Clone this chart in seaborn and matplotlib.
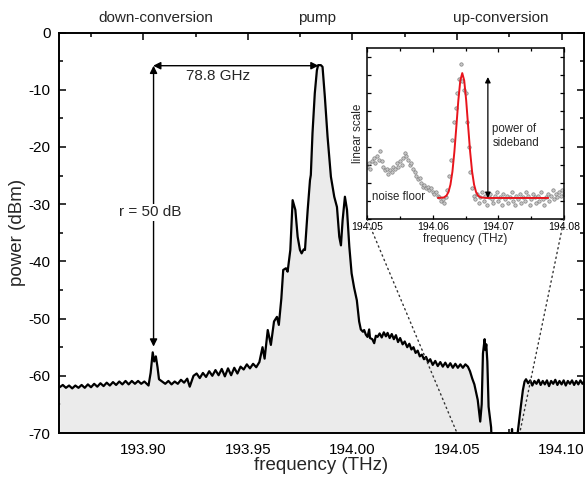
"""
Sideband spectrum: pump with down/up-conversion sidebands, inset in linear scale.
"""

import matplotlib
matplotlib.use("Agg")

import matplotlib.pyplot as plt
import numpy as np
import seaborn as sns
from matplotlib.patches import ConnectionPatch
from matplotlib.ticker import MultipleLocator, FormatStrFormatter

# main spectrum (THz, dBm)
freq_thz = [
    193.8600, 193.8615, 193.8630, 193.8645, 193.8660, 193.8675, 193.8690, 193.8705, 193.8720, 193.8735,
    193.8750, 193.8765, 193.8780, 193.8795, 193.8810, 193.8825, 193.8840, 193.8855, 193.8870, 193.8885,
    193.8900, 193.8915, 193.8930, 193.8945, 193.8960, 193.8975, 193.8990, 193.9005, 193.9025, 193.9035,
    193.9045, 193.9052, 193.9060, 193.9068, 193.9075, 193.9090, 193.9105, 193.9120, 193.9135, 193.9150,
    193.9165, 193.9180, 193.9195, 193.9210, 193.9222, 193.9240, 193.9255, 193.9270, 193.9285, 193.9300,
    193.9315, 193.9330, 193.9345, 193.9360, 193.9375, 193.9390, 193.9405, 193.9420, 193.9435, 193.9450,
    193.9465, 193.9480, 193.9495, 193.9510, 193.9525, 193.9540, 193.9555, 193.9570, 193.9580, 193.9595,
    193.9610, 193.9625, 193.9639, 193.9648, 193.9660, 193.9669, 193.9682, 193.9690, 193.9703, 193.9714,
    193.9727, 193.9738, 193.9749, 193.9757, 193.9767, 193.9773, 193.9786, 193.9797, 193.9801, 193.9809,
    193.9820, 193.9830, 193.9836, 193.9849, 193.9857, 193.9868, 193.9881, 193.9897, 193.9913, 193.9926,
    193.9937, 193.9945, 193.9953, 193.9964, 193.9974, 193.9985, 193.9996, 194.0008, 194.0021, 194.0032,
    194.0040, 194.0050, 194.0056, 194.0064, 194.0072, 194.0080, 194.0084, 194.0095, 194.0104, 194.0112,
    194.0120, 194.0130, 194.0140, 194.0150, 194.0160, 194.0168, 194.0178, 194.0188, 194.0198, 194.0208,
    194.0218, 194.0228, 194.0240, 194.0250, 194.0262, 194.0272, 194.0282, 194.0292, 194.0302, 194.0312,
    194.0322, 194.0332, 194.0342, 194.0352, 194.0362, 194.0372, 194.0384, 194.0396, 194.0408, 194.0420,
    194.0432, 194.0444, 194.0456, 194.0468, 194.0480, 194.0492, 194.0504, 194.0516, 194.0528, 194.0540,
    194.0552, 194.0562, 194.0573, 194.0583, 194.0599, 194.0611, 194.0618, 194.0624, 194.0632, 194.0636,
    194.0640, 194.0645, 194.0651, 194.0659, 194.0663, 194.0670, 194.0680, 194.0760, 194.0763, 194.0766,
    194.0785, 194.0790, 194.0805, 194.0815, 194.0823, 194.0830, 194.0840, 194.0850, 194.0860, 194.0870,
    194.0880, 194.0890, 194.0900, 194.0910, 194.0920, 194.0930, 194.0940, 194.0950, 194.0960, 194.0970,
    194.0980, 194.0990, 194.1000, 194.1010, 194.1020, 194.1030, 194.1040, 194.1050, 194.1060, 194.1070,
    194.1080, 194.1090, 194.1100, 194.1110,
]
power_dbm = [
    -62.0, -61.6, -62.1, -61.7, -62.2, -61.7, -62.1, -61.6, -62.1, -61.5,
    -62.0, -61.4, -61.9, -61.3, -61.8, -61.2, -61.7, -61.1, -61.6, -61.0,
    -61.5, -60.9, -61.5, -60.9, -61.4, -60.9, -61.4, -61.0, -61.7, -59.5,
    -55.9, -57.5, -56.6, -58.5, -60.6, -61.0, -61.4, -60.9, -61.5, -61.0,
    -61.4, -60.7, -61.2, -60.5, -61.9, -60.0, -59.6, -60.4, -59.5, -60.2,
    -59.2, -60.0, -59.0, -59.9, -58.8, -60.1, -58.7, -59.9, -58.6, -59.6,
    -58.4, -58.9, -58.0, -58.7, -57.9, -58.5, -57.6, -55.0, -57.0, -52.0,
    -54.6, -50.5, -49.7, -51.1, -46.5, -41.5, -41.2, -41.8, -38.0, -29.3,
    -31.0, -35.7, -38.0, -38.6, -37.9, -38.0, -31.0, -25.8, -24.9, -17.6,
    -10.6, -6.6, -5.7, -5.7, -6.0, -11.2, -18.2, -25.2, -28.7, -30.5,
    -35.7, -37.2, -32.8, -28.7, -31.0, -37.4, -42.1, -44.6, -46.8, -50.5,
    -51.9, -52.3, -52.0, -52.8, -53.2, -51.9, -53.4, -53.6, -54.3, -53.0,
    -53.2, -52.6, -53.3, -52.4, -53.1, -52.5, -53.4, -52.7, -53.6, -52.9,
    -54.1, -53.4, -54.5, -54.0, -55.0, -54.4, -55.4, -55.0, -56.0, -55.6,
    -56.6, -56.3, -57.1, -56.7, -57.6, -57.1, -58.1, -57.4, -58.3, -57.6,
    -58.4, -57.7, -58.5, -57.8, -58.6, -57.9, -58.6, -58.0, -58.6, -58.0,
    -58.4, -59.2, -60.5, -61.5, -64.2, -68.0, -65.0, -56.1, -53.6, -55.5,
    -54.5, -57.5, -65.4, -67.7, -69.0, -75.0, -75.0, -75.0, -69.3, -75.0,
    -75.0, -70.0, -65.4, -62.5, -61.0, -60.6, -61.3, -60.8, -61.7, -60.9,
    -61.4, -60.7, -61.6, -60.9, -61.5, -60.8, -61.8, -60.9, -61.4, -60.7,
    -61.6, -60.9, -61.5, -60.8, -61.7, -60.9, -61.4, -60.8, -61.6, -60.9,
    -61.5, -60.8, -61.4, -60.9,
]

# inset: measured points (linear scale) on an even frequency grid
inset_points = [
    0.29, 0.31, 0.28, 0.32, 0.34, 0.31, 0.35, 0.33, 0.38,
    0.32, 0.29, 0.27, 0.28, 0.25, 0.27, 0.26, 0.29,
    0.28, 0.31, 0.29, 0.32, 0.30, 0.34, 0.37, 0.35,
    0.33, 0.30, 0.31, 0.28, 0.26, 0.24, 0.22, 0.23,
    0.20, 0.18, 0.19, 0.17, 0.18, 0.16, 0.17, 0.15,
    0.14, 0.15, 0.13, 0.12,
    0.10, 0.11, 0.09, 0.12,
    0.16, 0.24, 0.33, 0.44, 0.54, 0.62, 0.70, 0.78, 0.86, 0.77, 0.72, 0.70, 0.54, 0.40, 0.26, 0.17, 0.13,
    0.11, 0.14, 0.09, 0.12, 0.15, 0.10, 0.13, 0.08, 0.12, 0.14,
    0.11, 0.09, 0.13, 0.15, 0.10, 0.12, 0.08, 0.14, 0.11, 0.13,
    0.09, 0.12, 0.15, 0.10, 0.08, 0.13, 0.11, 0.14, 0.09, 0.12,
    0.10, 0.15, 0.13, 0.08, 0.11, 0.14, 0.12, 0.09, 0.13, 0.10,
    0.15, 0.11, 0.08, 0.12, 0.14, 0.10, 0.13, 0.16, 0.11, 0.14,
    0.12, 0.15, 0.13, 0.16, 0.14,
]
inset_freq = np.linspace(194.05, 194.08, len(inset_points))

# inset: fitted curve
fit_freq = [194.0608, 194.0617, 194.0621, 194.0624, 194.0627, 194.0630, 194.0633, 194.0636,
            194.0639, 194.0642, 194.0645, 194.0648, 194.0651, 194.0654, 194.0657, 194.0660,
            194.0663, 194.0666, 194.0669, 194.0673, 194.0682, 194.0776]
fit_value = [0.117, 0.120, 0.130, 0.150, 0.191, 0.263, 0.374, 0.514,
             0.659, 0.770, 0.812, 0.770, 0.659, 0.514, 0.374, 0.263,
             0.191, 0.150, 0.130, 0.120, 0.117, 0.117]

sns.set_theme(style="ticks")
plt.rcParams["font.family"] = ["Liberation Sans", "DejaVu Sans"]
plt.rcParams["axes.unicode_minus"] = False

fig = plt.figure(figsize=(5.85, 4.79), dpi=100)
ax = fig.add_axes([0.1009, 0.0960, 0.8966, 0.8361])

ax.fill_between(freq_thz, power_dbm, -80, color="#ebebeb", lw=0, zorder=1)
sns.lineplot(x=freq_thz, y=power_dbm, ax=ax, color="black", linewidth=1.6,
             sort=False, estimator=None, zorder=2)

ax.set_xlim(193.8597, 194.1105)
ax.set_ylim(-70, 0)
ax.xaxis.set_major_locator(MultipleLocator(0.05))
ax.xaxis.set_minor_locator(MultipleLocator(0.025))
ax.xaxis.set_major_formatter(FormatStrFormatter("%.2f"))
ax.yaxis.set_major_locator(MultipleLocator(10))
ax.yaxis.set_minor_locator(MultipleLocator(5))
ax.tick_params(which="both", direction="in", top=True, right=True, width=1.1,
               colors="black", labelsize=11)
ax.tick_params(which="major", length=5)
ax.tick_params(which="minor", length=3)
ax.tick_params(axis="x", pad=7)
ax.tick_params(axis="y", pad=6)
for s in ax.spines.values():
    s.set_linewidth(1.4)
    s.set_color("black")
ax.set_xlabel("frequency (THz)", fontsize=13.5, labelpad=0)
ax.set_ylabel("power (dBm)", fontsize=13.5, labelpad=2)

# region labels above the frame
top = ax.get_xaxis_transform()
ax.text(193.9059, 1.036, "down-conversion", transform=top, ha="center", va="center", fontsize=11)
ax.text(193.9830, 1.036, "pump", transform=top, ha="center", va="center", fontsize=11)
ax.text(194.0709, 1.036, "up-conversion", transform=top, ha="center", va="center", fontsize=11)

arrow = dict(arrowstyle="<|-|>", color="black", lw=1.0, mutation_scale=11, shrinkA=0, shrinkB=0)
ax.annotate("", xy=(193.9047, -5.8), xytext=(193.9838, -5.8), arrowprops=arrow, zorder=3)
ax.annotate("", xy=(193.9049, -5.8), xytext=(193.9049, -54.9), arrowprops=arrow, zorder=3)
ax.text(193.9357, -7.6, "78.8 GHz", ha="center", va="center", fontsize=11)
ax.text(193.9032, -31.4, "r = 50 dB", ha="center", va="center", fontsize=11, zorder=4,
        bbox=dict(facecolor="white", edgecolor="none", pad=1))

# inset
ins = fig.add_axes([0.6274, 0.5428, 0.3368, 0.3564])
ins.set_facecolor("white")
sns.scatterplot(x=inset_freq, y=inset_points, ax=ins, s=6, color="#c8c8c8",
                edgecolor="#808080", linewidth=0.5, zorder=2)
sns.lineplot(x=fit_freq, y=fit_value, ax=ins, color="#e8141c", linewidth=1.4,
             sort=False, estimator=None, zorder=3)
ins.set_xlim(194.05, 194.08)
ins.set_ylim(0, 0.95)
ins.xaxis.set_major_locator(MultipleLocator(0.01))
ins.xaxis.set_minor_locator(MultipleLocator(0.005))
ins.xaxis.set_major_formatter(FormatStrFormatter("%.2f"))
ins.yaxis.set_major_locator(MultipleLocator(0.1))
ins.set_yticklabels([])
ins.tick_params(which="both", direction="in", top=True, right=True, width=0.9,
                colors="black", labelsize=7.5, pad=2)
ins.tick_params(which="major", length=3)
ins.tick_params(which="minor", length=2)
for s in ins.spines.values():
    s.set_linewidth(1.1)
    s.set_color("black")
ins.set_xlabel("frequency (THz)", fontsize=8.5, labelpad=1)
ins.set_ylabel("linear scale", fontsize=8.5, labelpad=0)

ins.annotate("", xy=(194.0684, 0.790), xytext=(194.0684, 0.117),
             arrowprops=dict(arrowstyle="<|-|>", color="black", lw=0.9,
                             mutation_scale=8, shrinkA=0, shrinkB=0), zorder=4)
ins.text(194.0691, 0.462, "power of\nsideband", ha="left", va="center", fontsize=8.3,
         linespacing=1.2)
ins.text(194.0507, 0.122, "noise floor", ha="left", va="center", fontsize=8.3, zorder=5,
         bbox=dict(facecolor="white", edgecolor="none", pad=0.5))

# dotted zoom lines from inset corners down to the main axis
for f in (194.05, 194.08):
    con = ConnectionPatch(xyA=(f, 0), coordsA=ins.transData, xyB=(f, -70),
                          coordsB=ax.transData, color="#333333", lw=1.0,
                          linestyle=(0, (1, 2.5)), zorder=5)
    fig.add_artist(con)

fig.savefig("out.png", dpi=100)
